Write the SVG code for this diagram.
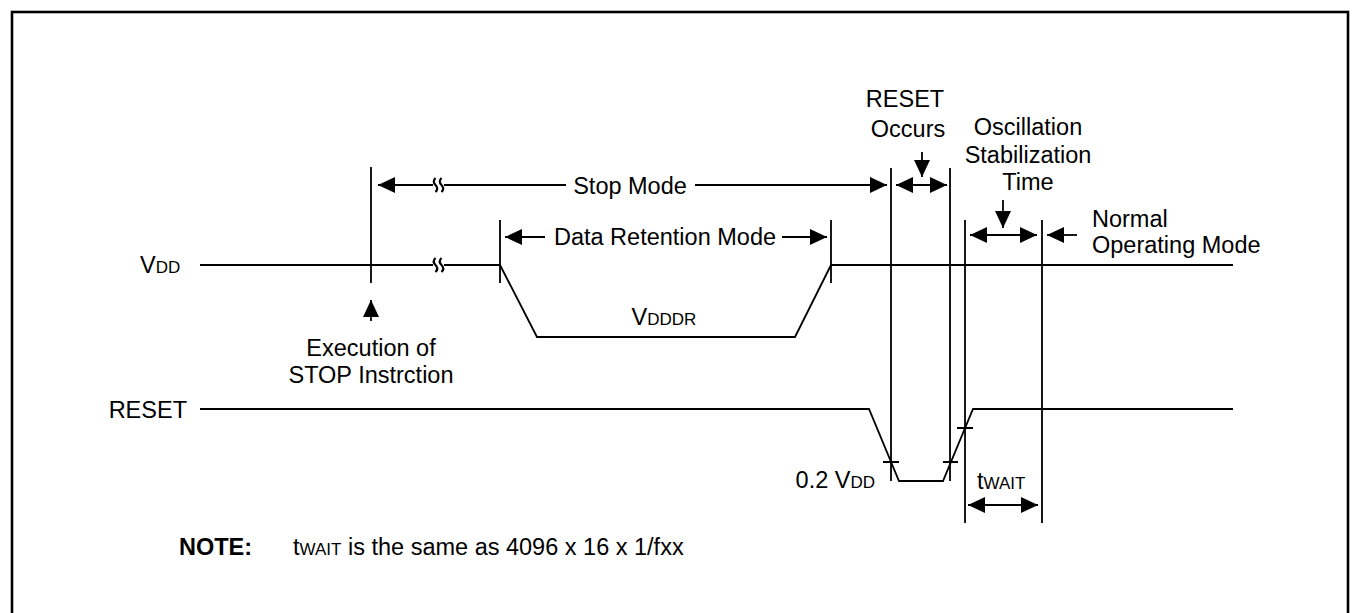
<svg xmlns="http://www.w3.org/2000/svg" width="1359" height="613" viewBox="0 0 1359 613">
<style>
.ln{stroke:#000;stroke-width:1.8;fill:none}
.brk{stroke:#000;stroke-width:2.2;fill:none}
.t{font-family:"Liberation Sans",Arial,sans-serif;font-size:23.5px;fill:#000}
.s{font-size:17px}
</style>
<defs>
<marker id="arr" markerUnits="userSpaceOnUse" markerWidth="18" markerHeight="16" refX="17" refY="8" orient="auto-start-reverse">
<path d="M0,0 L17,8 L0,16 Z" fill="#000"/>
</marker>
</defs>
<rect x="0" y="0" width="1359" height="613" fill="#fff"/>
<rect x="12" y="12" width="1336" height="604" fill="none" stroke="#000" stroke-width="2.6"/>

<g id="signals">
<g id="vdd">
<text class="t" x="140" y="273">V<tspan class="s">DD</tspan></text>
<path class="ln" d="M200,265 H433 M444,265 H500 L537,337 H795 L831,265 H1233"/>
<path class="brk" d="M435.5,258 q-3.5,3.5 0,7 q3.5,3.5 0,7 M441.5,258 q-3.5,3.5 0,7 q3.5,3.5 0,7"/>
</g>
<g id="vdddr">
<text class="t" x="664" y="325" text-anchor="middle">V<tspan class="s">DDDR</tspan></text>
</g>
<g id="reset">
<text class="t" x="187" y="418" text-anchor="end">RESET</text>
<path class="ln" d="M200,409 H869 L899,481 H943 L973,409 H1233"/>
<path class="ln" d="M883,462 H899 M943,462 H958 M957,428 H973"/>
<text class="t" x="875" y="488" text-anchor="end">0.2 V<tspan class="s">DD</tspan></text>
</g>
</g>

<g id="connectors">
<path class="ln" d="M371,167 V283 M500,220 V283 M831,220 V283 M891,168 V481 M950,168 V481 M965,220 V523 M1042,220 V523"/>
<path class="ln" d="M371,321 V300" marker-end="url(#arr)"/>
<path class="ln" d="M433,185 H378" marker-end="url(#arr)"/>
<path class="ln" d="M444,185 H566"/>
<path class="brk" d="M435.5,178 q-3.5,3.5 0,7 q3.5,3.5 0,7 M441.5,178 q-3.5,3.5 0,7 q3.5,3.5 0,7"/>
<path class="ln" d="M695,185 H887" marker-end="url(#arr)"/>
<path class="ln" d="M545,237 H505" marker-end="url(#arr)"/>
<path class="ln" d="M782,237 H827" marker-end="url(#arr)"/>
<path class="ln" d="M896,185 H947" marker-start="url(#arr)" marker-end="url(#arr)"/>
<path class="ln" d="M922,152 V177" marker-end="url(#arr)"/>
<path class="ln" d="M970,235 H1037" marker-start="url(#arr)" marker-end="url(#arr)"/>
<path class="ln" d="M1003,200 V228" marker-end="url(#arr)"/>
<path class="ln" d="M1077,235 H1047" marker-end="url(#arr)"/>
<path class="ln" d="M968,505 H1038" marker-start="url(#arr)" marker-end="url(#arr)"/>
</g>

<g id="labels">
<text class="t" x="630" y="193.5" text-anchor="middle">Stop Mode</text>
<text class="t" x="665" y="245" text-anchor="middle">Data Retention Mode</text>
<text class="t" x="371" y="356" text-anchor="middle">Execution of</text>
<text class="t" x="371" y="383" text-anchor="middle">STOP Instrction</text>
<text class="t" x="905" y="107" text-anchor="middle">RESET</text>
<text class="t" x="908" y="137" text-anchor="middle">Occurs</text>
<text class="t" x="1028" y="135" text-anchor="middle">Oscillation</text>
<text class="t" x="1028" y="163" text-anchor="middle">Stabilization</text>
<text class="t" x="1028" y="190" text-anchor="middle">Time</text>
<text class="t" x="1092" y="227">Normal</text>
<text class="t" x="1092" y="253">Operating Mode</text>
<text class="t" x="977" y="489">t<tspan class="s">WAIT</tspan></text>
<text class="t" x="179" y="555" font-weight="bold">NOTE:</text>
<text class="t" x="293" y="555">t<tspan class="s">WAIT</tspan> is the same as 4096 x 16 x 1/fxx</text>
</g>
</svg>
